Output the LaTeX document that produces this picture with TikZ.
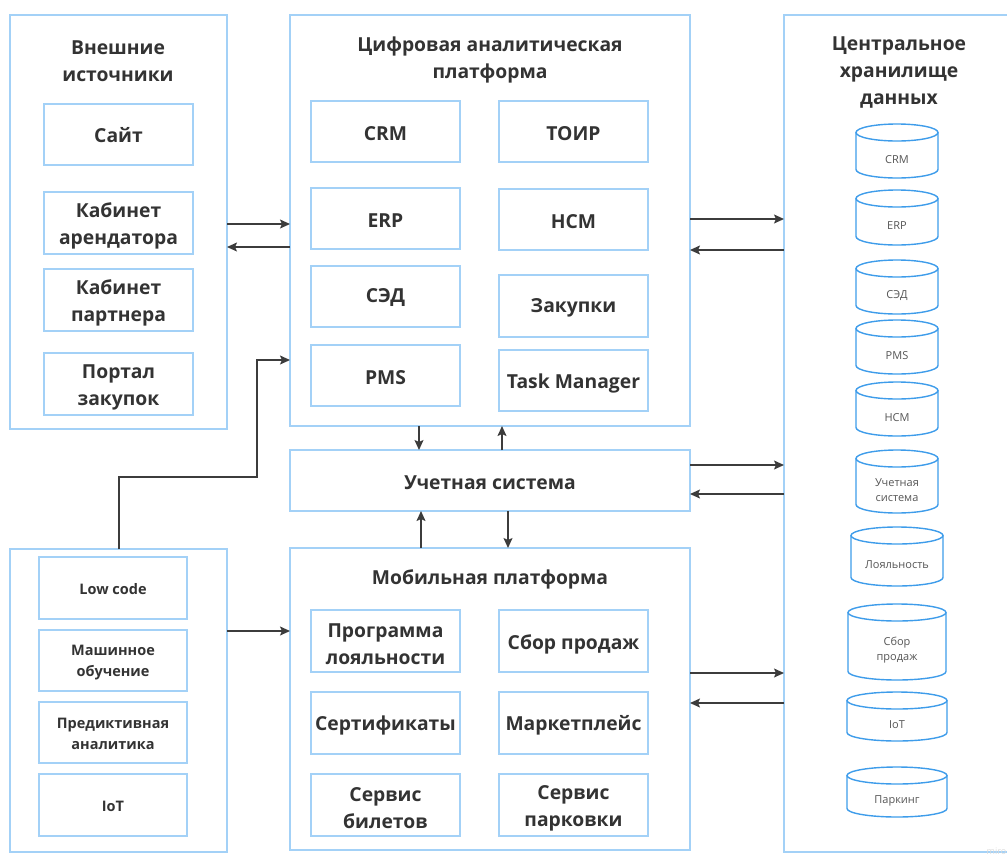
\documentclass[tikz,border=0pt]{standalone}
\usepackage{fontspec}
\setmainfont{Open Sans}
\usetikzlibrary{arrows.meta}
\definecolor{frame}{HTML}{A3D1F7}
\definecolor{dbblue}{HTML}{3E9CEA}
\definecolor{ink}{HTML}{333333}
\definecolor{dbtext}{HTML}{555555}
\definecolor{arrowc}{HTML}{3C3C3C}
\tikzset{
  frm/.style={draw=frame, line width=1.3pt, anchor=north west, inner sep=0pt, outer sep=0pt},
  lbl/.style={align=center, text=ink, inner sep=0pt, font=\bfseries\fontsize{19.3}{27}\selectfont},
  smalllbl/.style={lbl, font=\bfseries\fontsize{14.5}{21}\selectfont},
  title/.style={lbl},
  arr/.style={draw=arrowc, line width=1.4pt, -{Stealth[length=10pt,width=9pt,inset=2pt]}},
  dblabel/.style={align=center, text=dbtext, inner sep=0pt, font=\fontsize{11}{15}\selectfont},
  db/.style={draw=dbblue, line width=1.4pt},
}
% framed box with its caption: [caption style]{name}{x}{y}{w}{h}{caption drop}{caption}
\newcommand\mkbox[8][lbl]{%
  \node[frm, minimum width=#5pt, minimum height=#6pt] (#2) at (#3,#4) {};
  \node[#1] (#2-t) at ([yshift=-#7pt]#2.center) {#8};
}
% database cylinder: name, cx, top centre, bottom centre, rx, ry, label
\newcommand\dbcyl[7]{%
  \draw[db] (#2-#5,#3) -- (#2-#5,#4)
    arc[start angle=180, end angle=0, x radius=#5, y radius=#6] -- (#2+#5,#3);
  \draw[db] (#2,#3) ellipse[x radius=#5, y radius=#6];
  \node[dblabel] (#1) at (#2,{(#3+#4)/2+#6}) {#7};
}
\begin{document}
\begin{tikzpicture}[x=1pt, y=-1pt]
\useasboundingbox (0,0) rectangle (1007,855);

% external sources
\node[frm, minimum width=217pt, minimum height=414pt] (ext) at (10,15) {};
\node[title] (extT) at (118,61) {Внешние\\источники};
\mkbox{site}{44}{104}{149}{61}{1}{Сайт}
\mkbox{tenant}{44}{192}{149}{62}{3}{Кабинет\\арендатора}
\mkbox{partner}{44}{269}{149}{62}{3}{Кабинет\\партнера}
\mkbox{portal}{44}{353}{149}{62}{3}{Портал\\закупок}

% digital analytics platform
\node[frm, minimum width=400pt, minimum height=411pt] (plat) at (290,15) {};
\node[title] (platT) at (490,60) {Цифровая аналитическая\\платформа};
\mkbox{crm}{311}{101}{149}{61}{2.3}{CRM}
\mkbox{toir}{499}{101}{149}{61}{2.3}{ТОИР}
\mkbox{erp}{311}{188}{149}{61}{2.3}{ERP}
\mkbox{nsm}{499}{189}{149}{61}{2.3}{НСМ}
\mkbox{sed}{311}{266}{149}{61}{1.5}{СЭД}
\mkbox{proc}{499}{275}{149}{62}{2.3}{Закупки}
\mkbox{pms}{311}{345}{149}{61}{2.3}{PMS}
\mkbox{task}{499}{350}{149}{61}{3}{Task Manager}

% accounting system
\mkbox{acc}{290}{450}{400}{61}{2.5}{Учетная система}

% mobile platform
\node[frm, minimum width=400pt, minimum height=302pt] (mob) at (290,548) {};
\node[title] (mobT) at (490,579.5) {Мобильная платформа};
\mkbox{loyal}{311}{610}{149}{62}{3}{Программа\\лояльности}
\mkbox{sales}{499}{610}{149}{62}{3}{Сбор продаж}
\mkbox{cert}{311}{692}{149}{62}{2.5}{Сертификаты}
\mkbox{market}{499}{692}{149}{62}{2.5}{Маркетплейс}
\mkbox{tickets}{311}{774}{149}{62}{3}{Сервис\\билетов}
\mkbox{parking}{499}{774}{149}{62}{3}{Сервис\\парковки}

% technologies
\node[frm, minimum width=217pt, minimum height=303pt] (tech) at (10,549) {};
\mkbox[smalllbl]{lowcode}{39}{557}{148}{62}{1}{Low code}
\mkbox[smalllbl]{ml}{39}{630}{148}{61}{2.5}{Машинное\\обучение}
\mkbox[smalllbl]{pred}{39}{702}{148}{61}{1.5}{Предиктивная\\аналитика}
\mkbox[smalllbl]{iot}{39}{774}{148}{62}{1}{IoT}

% central data warehouse
\node[frm, minimum width=240pt, minimum height=837pt] (dwh) at (784,15) {};
\node[title] (dwhT) at (899,72.5) {Центральное\\хранилище\\данных};
\dbcyl{dbcrm}{897}{132.5}{169.5}{41}{8.5}{CRM}
\dbcyl{dberp}{897}{198.5}{236.5}{41}{8.5}{ERP}
\dbcyl{dbsed}{897}{268.5}{305.5}{41}{8.5}{СЭД}
\dbcyl{dbpms}{897}{328.5}{365.5}{41}{8.5}{PMS}
\dbcyl{dbnsm}{897}{390.5}{427.5}{41}{8.5}{НСМ}
\dbcyl{dbacc}{897}{458.5}{504.5}{41}{8.5}{Учетная\\система}
\dbcyl{dbloyal}{897}{535.5}{577.5}{46}{8.5}{Лояльность}
\dbcyl{dbsales}{897}{612.5}{671.5}{49}{8.5}{Сбор\\продаж}
\dbcyl{dbiot}{897}{700.5}{732.5}{50}{8.5}{IoT}
\dbcyl{dbpark}{897}{775.5}{808.5}{50}{8.5}{Паркинг}

% connectors
\draw[arr] (ext.east |- 0,224) -- (plat.west |- 0,224);
\draw[arr] (plat.west |- 0,247) -- (ext.east |- 0,247);
\draw[arr] (plat.east |- 0,219) -- (dwh.west |- 0,219);
\draw[arr] (dwh.west |- 0,250) -- (plat.east |- 0,250);
\draw[arr] (acc.east |- 0,465) -- (dwh.west |- 0,465);
\draw[arr] (dwh.west |- 0,494) -- (acc.east |- 0,494);
\draw[arr] (mob.east |- 0,673) -- (dwh.west |- 0,673);
\draw[arr] (dwh.west |- 0,703) -- (mob.east |- 0,703);
\draw[arr] (plat.south -| 419,0) -- (acc.north -| 419,0);
\draw[arr] (acc.north -| 502,0) -- (plat.south -| 502,0);
\draw[arr] (mob.north -| 421,0) -- (acc.south -| 421,0);
\draw[arr] (acc.south -| 508,0) -- (mob.north -| 508,0);
\draw[arr] (tech.north -| 119,0) -- (119,477) -- (257,477) -- (257,360) -- (plat.west |- 0,360);
\draw[arr] (tech.east |- 0,631) -- (mob.west |- 0,631);

% watermark
\node[text=black!14, font=\fontsize{9}{9}\selectfont, anchor=south east, inner sep=0.5pt] (wm) at (1007,855) {miro};
\end{tikzpicture}
\end{document}
